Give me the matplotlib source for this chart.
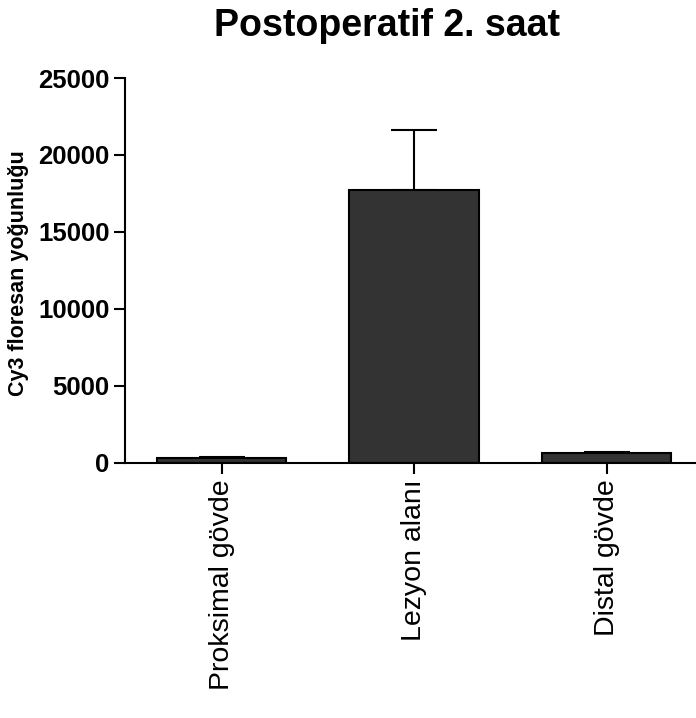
import matplotlib
matplotlib.use("Agg")
import matplotlib.pyplot as plt
import numpy as np

categories = ["Proksimal gövde", "Lezyon alanı", "Distal gövde"]
means = [290, 17700, 650]
errors = [65, 3950, 65]
yticks = [0, 5000, 10000, 15000, 20000, 25000]

plt.rcParams['font.family'] = ['Liberation Sans', 'DejaVu Sans']

fig = plt.figure(figsize=(6.96, 7.18), dpi=100)
ax = fig.add_axes([125/696, 1-462.7/718, 1-125/696, (462.7-78)/718])

x = np.arange(len(categories))
ax.bar(x, means, width=0.673, color='#333333', edgecolor='black', linewidth=1.5, zorder=2)
ax.errorbar(x, means, yerr=[np.zeros(len(errors)), errors], fmt='none', ecolor='black',
            elinewidth=1.5, capsize=16.5, capthick=1.5, zorder=1)

ax.set_xlim(-0.502, 2.464)
ax.set_ylim(0, 25000)
ax.set_yticks(yticks)
ax.set_yticklabels([str(v) for v in yticks], fontsize=18.5, fontweight='bold')
ax.set_xticks(x)
ax.set_xticklabels(categories, rotation=90, fontsize=20.5)
ax.tick_params(axis='both', width=1.5, length=8, color='black', pad=3)
ax.tick_params(axis='x', pad=4)

for s in ['top', 'right']:
    ax.spines[s].set_visible(False)
for s in ['left', 'bottom']:
    ax.spines[s].set_linewidth(1.5)

fig.text(19/696, 1-273.5/718, "Cy3 floresan yoğunluğu", fontsize=15.5, fontweight='bold',
         rotation=90, ha='center', va='center')
fig.text(387/696, 1-26/718, "Postoperatif 2. saat", fontsize=27, fontweight='bold',
         ha='center', va='center')

fig.savefig("out.png", dpi=100)
